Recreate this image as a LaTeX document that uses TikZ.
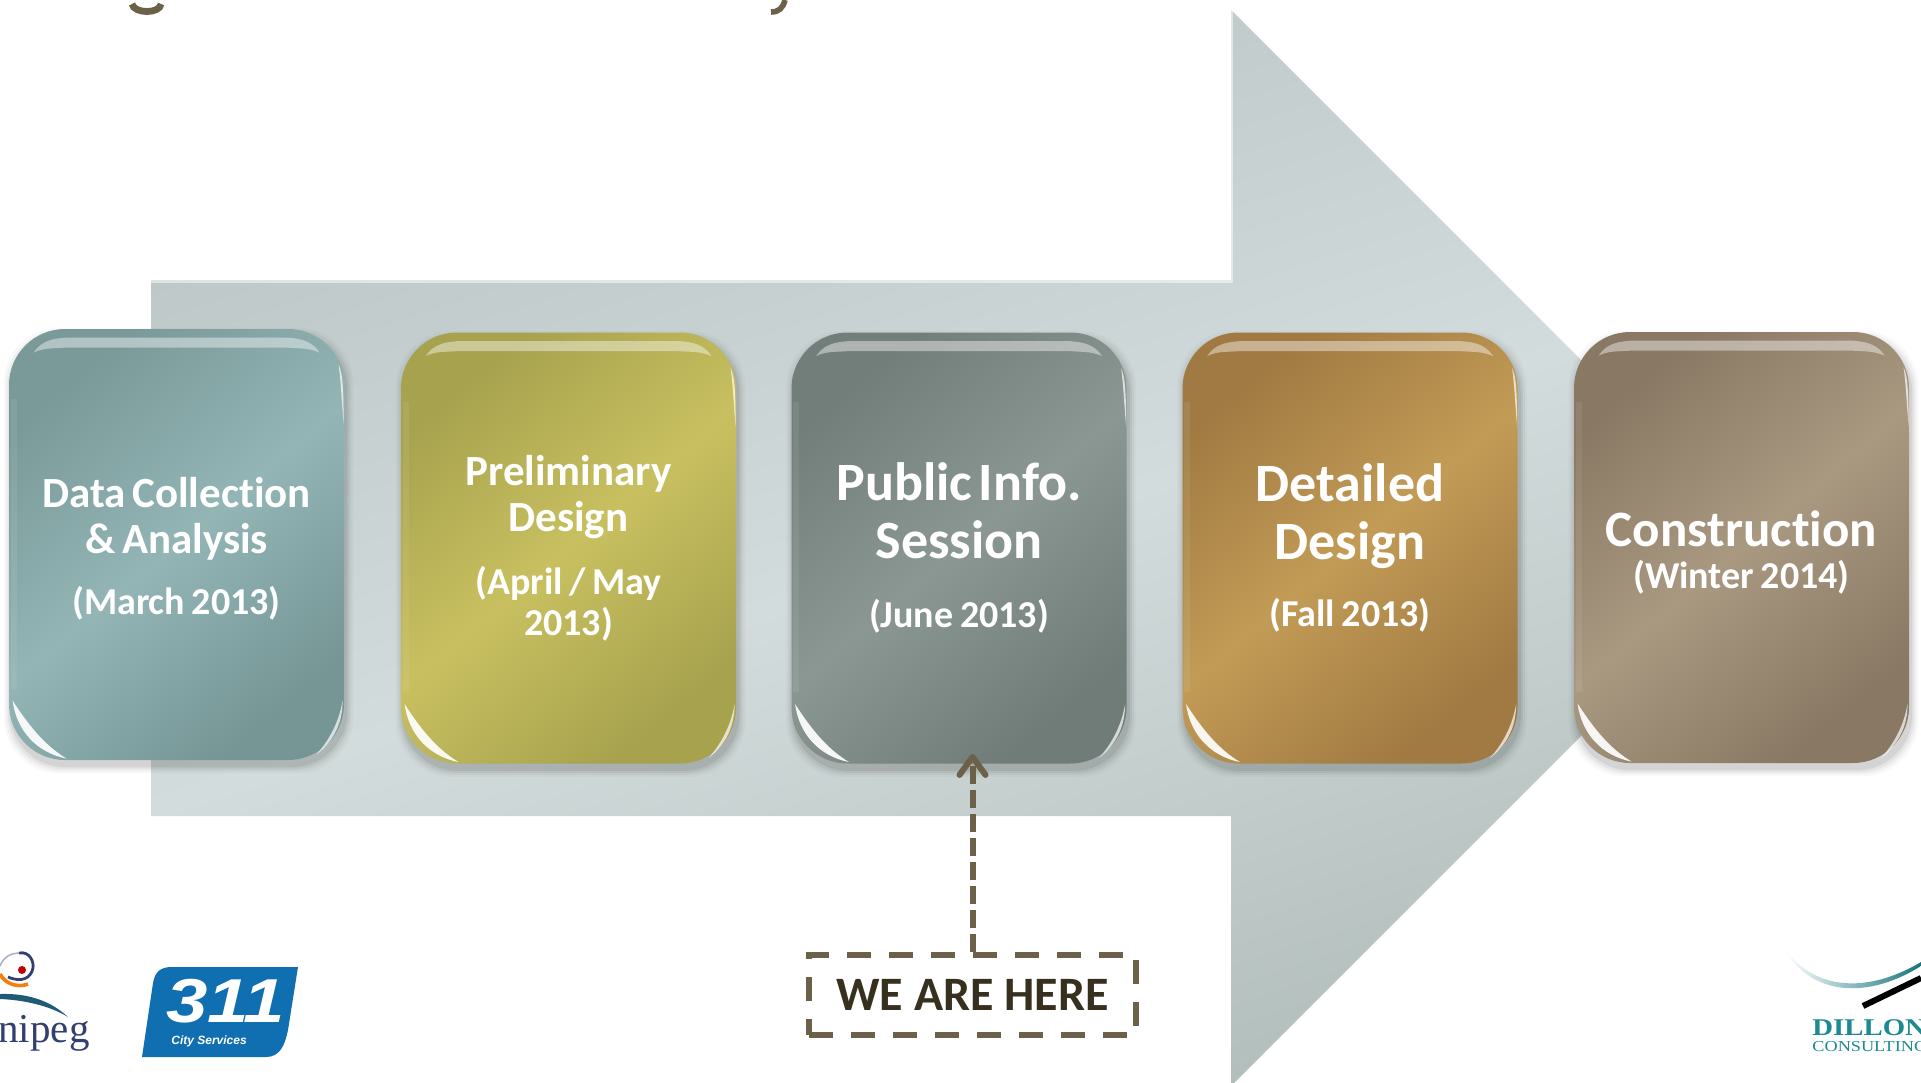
\documentclass[tikz,border=0pt]{standalone}
\usepackage{fontspec}
\setmainfont[Ligatures=NoCommon]{Carlito}
\newfontfamily\logosans{Liberation Sans}
\newfontfamily\logoserif{Liberation Serif}
\usetikzlibrary{arrows.meta,calc}
\definecolor{dashbrown}{HTML}{6B6149}
\definecolor{heretext}{HTML}{37301F}
\definecolor{blue311}{HTML}{0F6FB0}
\definecolor{navy}{HTML}{33406F}
\definecolor{teal1}{HTML}{1B8A93}
\newcommand{\fs}[2]{\fontsize{#1}{#2}\selectfont}
\newcommand{\shadowof}[1]{%
  \foreach \e/\o in {7/.025,5/.035,3/.05,1/.07}{
    \fill[black,opacity=\o,rounded corners=28pt]
      ($(#1.north west)+(2-\e,6-\e)$) rectangle ($(#1.south east)+(2+\e,6+\e)$);
  }}
\newcommand{\bevel}[1]{%
  \begin{scope}[shift={(#1.north west)}]
    \fill[white,opacity=.42] (25,24) .. controls (33,12) and (44,10) .. (58,9) -- (278,9)
       .. controls (292,10) and (303,12) .. (311,24) .. controls (300,19) and (290,20) .. (278,19)
       -- (58,19) .. controls (44,20) and (35,19) .. (25,24) -- cycle;
    \fill[white,opacity=.92] (4,372) .. controls (8,402) and (28,424) .. (58,430)
       .. controls (38,418) and (22,400) .. (4,372) -- cycle;
    \fill[white,opacity=.7] (330,36) .. controls (334,44) and (335,60) .. (335,95)
       .. controls (333,70) and (332,50) .. (330,36) -- cycle;
    \fill[white,opacity=.7] (334,372) .. controls (334,395) and (325,412) .. (308,426)
       .. controls (320,412) and (330,395) .. (334,372) -- cycle;
    \fill[white,opacity=.07] (2,70) rectangle (8,360);
  \end{scope}}
\tikzset{
  stepcard/.style={rounded corners=28pt,minimum width=167.5pt,minimum height=215.5pt,
    inner sep=0pt,text=white,align=center,text width=150pt,font=\bfseries},
  cardtilt/.style={shading=axis,shading angle=40},
  holder/.style={minimum width=167.5pt,minimum height=215.5pt,inner sep=0pt},
  hereline/.style={draw=dashbrown,line width=3pt},
  logotext/.style={inner sep=0pt,anchor=base west},
}
\begin{document}
\begin{tikzpicture}[x=0.5pt,y=-0.5pt]
\useasboundingbox (0,0) rectangle (1921,1082);
% title descenders cut by the top edge
\draw[dashbrown,line width=3.4pt] (132,4) .. controls (134,14) and (160,14) .. (161,4);
\draw[dashbrown,line width=2.8pt] (785,0) .. controls (783,8) and (779,12) .. (771,12);
% big arrow
\shade[top color={rgb,255:red,186;green,196;blue,196},bottom color={rgb,255:red,178;green,190;blue,188},
  middle color={rgb,255:red,211;green,220;blue,220},shading angle=18]
  (151,280) -- (1231,280) -- (1231,10) -- (1769,548) -- (1231,1086) -- (1231,816) -- (151,816) -- cycle;
\draw[white,opacity=.5,line width=1.5pt] (151,281) -- (1233,281) (1231,280) -- (1231,10);
% cards
\path (176.5,544.5) coordinate (c1) (568.5,548) coordinate (c2) (959,548) coordinate (c3)
      (1350,548) coordinate (c4) (1741.5,547.5) coordinate (c5);
\path (c1) node[holder] (s1) {} (c2) node[holder] (s2) {} (c3) node[holder] (s3) {}
      (c4) node[holder] (s4) {} (c5) node[holder] (s5) {};
\shadowof{s1}\shadowof{s2}\shadowof{s3}\shadowof{s4}\shadowof{s5}
\node[stepcard,top color={rgb,255:red,122;green,154;blue,153},bottom color={rgb,255:red,118;green,150;blue,150},middle color={rgb,255:red,147;green,181;blue,181},cardtilt] (b1) at (c1)
  {\fs{21.5}{23}\rule{0pt}{19pt}Data Collection\\\& Analysis\\[12pt]\fs{19}{21}(March 2013)};
\node[stepcard,top color={rgb,255:red,167;green,162;blue,78},bottom color={rgb,255:red,167;green,162;blue,78},middle color={rgb,255:red,200;green,192;blue,96},cardtilt] (b2) at (c2)
  {\fs{21.5}{23}Preliminary\\Design\\[9pt]\fs{19}{22.5}(April / May\\[2.5pt]2013)};
\node[stepcard,top color={rgb,255:red,114;green,126;blue,122},bottom color={rgb,255:red,112;green,124;blue,120},middle color={rgb,255:red,138;green,151;blue,146},cardtilt] (b3) at (c3)
  {\fs{27}{29}Public Info.\\Session\\[19pt]\fs{19}{21}(June 2013)};
\node[stepcard,top color={rgb,255:red,160;green,122;blue,66},bottom color={rgb,255:red,160;green,122;blue,66},middle color={rgb,255:red,194;green,155;blue,86},cardtilt] (b4) at (c4)
  {\fs{27}{29}Detailed\\Design\\[14pt]\fs{19}{21}(Fall 2013)};
\node[stepcard,top color={rgb,255:red,137;green,120;blue,99},bottom color={rgb,255:red,137;green,120;blue,99},middle color={rgb,255:red,170;green,153;blue,129},cardtilt] (b5) at (c5)
  {\fs{25.5}{27}\rule{0pt}{23pt}Construction\\[6pt]\fs{19}{21}(Winter 2014)};
\bevel{b1}\bevel{b2}\bevel{b3}\bevel{b4}\bevel{b5}
% callout
\node[draw=dashbrown,line width=3pt,dash pattern=on 12pt off 9pt,minimum width=163.5pt,minimum height=40pt,
  inner sep=0pt,text=heretext,font=\bfseries\fs{24}{26}] (here) at (972.5,995) {\raisebox{-2pt}{WE ARE HERE}};
\draw[hereline,dash pattern=on 9pt off 3pt,shorten >=-5pt,
  -{Straight Barb[round,length=9pt,width=13pt,line width=3pt]}] (here.north) -- (here.north |- b3.south);
% City logo
\draw[navy,line width=1.4pt] (19,953) .. controls (30,951) and (34,962) .. (33,968) .. controls (31,978) and (22,983) .. (8,977);
\draw[navy!40!white,line width=.8pt] (0,966) .. controls (4,956) and (12,953) .. (19,953);
\draw[orange!80!brown,line width=1.8pt] (0,974) .. controls (5,984) and (18,988) .. (28,984);
\fill[red!75!black] (22,970) circle (4);
\fill[navy!60!teal] (0,994) .. controls (30,993) and (52,1002) .. (68,1017) .. controls (50,1006) and (25,1000) .. (0,999) -- cycle;
\node[logotext,text=navy,font=\logoserif\fs{20.5}{22}] (cityname) at (-2,1042) {nipeg};
% 311 logo
\fill[blue311] (142,1057) -- (153,983) .. controls (155,972) and (160,967) .. (172,967)
  -- (298,967) -- (288,1030) .. controls (285,1045) and (280,1057) .. (266,1057) -- cycle;
\node[logotext,text=white,font=\logosans\bfseries\itshape\fs{31}{32}] (num311) at (166,1022) {\scalebox{1.2}[1]{311}};
\node[logotext,text=white,font=\logosans\bfseries\itshape\fs{6}{7}] (city311) at (171,1044) {City Services};
% consultant logo
\shade[left color=white,right color=teal1!85!black] (1785,949) .. controls (1810,985) and (1860,998) .. (1921,962)
  -- (1921,966) .. controls (1860,1004) and (1806,990) .. (1785,949) -- cycle;
\draw[black,line width=3pt] (1863,1006) -- (1921,978);
\node[logotext,text=teal1,font=\logoserif\bfseries\fs{12}{14}] (dillon) at (1812,1035) {\scalebox{1.2}[1]{DILLON}};
\node[logotext,text=teal1,font=\logoserif\fs{7.6}{9}] (consult) at (1812,1051) {\scalebox{1.2}[1]{CONSULTING}};
\end{tikzpicture}
\end{document}
